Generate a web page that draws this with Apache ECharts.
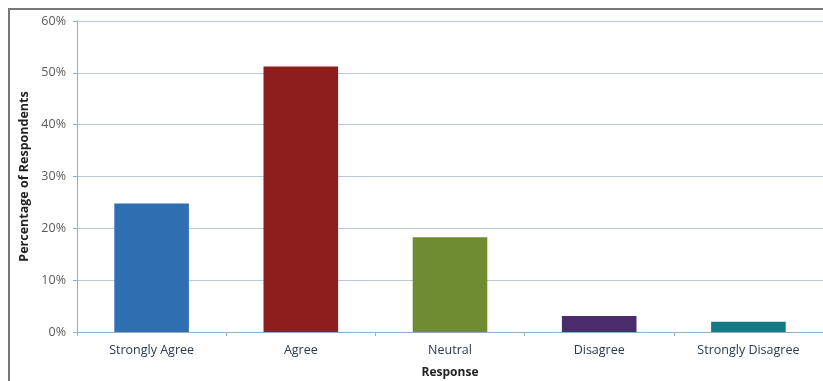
<!DOCTYPE html>
<html>
<head>
<meta charset="utf-8">
<script src="https://cdn.jsdelivr.net/npm/echarts@6/dist/echarts.min.js"></script>
<style>html,body{margin:0;padding:0;background:#fff}#c{width:823px;height:381px}</style>
</head>
<body>
<div id="c"></div>
<script>
const categories = ['Strongly Agree', 'Agree', 'Neutral', 'Disagree', 'Strongly Disagree'];
const values = [24.8, 51.2, 18.3, 3.1, 2.0];
const barColors = ['#2f6fb1', '#8e1d1d', '#6f8c31', '#4a2c6c', '#137b88'];
const yTicks = [0, 10, 20, 30, 40, 50, 60];

const chart = echarts.init(document.getElementById('c'));
chart.setOption({
  animation: false,
  grid: { left: 77, right: 0, top: 21, bottom: 49, containLabel: false, outerBoundsMode: 'none' },
  xAxis: {
    type: 'category',
    data: categories,
    name: 'Response',
    nameLocation: 'middle',
    nameGap: 35,
    nameTextStyle: { fontFamily: 'Open Sans', fontWeight: 'bold', fontSize: 12, color: '#222' },
    axisLine: { lineStyle: { color: '#8fb0c8', width: 1 } },
    axisTick: { show: true, length: 4, lineStyle: { color: '#8fb0c8' } },
    axisLabel: { fontFamily: 'Open Sans', fontSize: 12.5, color: '#2a3a48', margin: 12 }
  },
  yAxis: {
    type: 'value',
    min: yTicks[0],
    max: yTicks[yTicks.length - 1],
    interval: 10,
    name: 'Percentage of Respondents',
    nameLocation: 'middle',
    nameGap: 45,
    nameTextStyle: { fontFamily: 'Open Sans', fontWeight: 'bold', fontSize: 12.5, color: '#222' },
    axisLine: { show: true, lineStyle: { color: '#8fb0c8' } },
    axisTick: { show: true, length: 4, lineStyle: { color: '#8fb0c8' } },
    axisLabel: { fontFamily: 'Open Sans', fontSize: 12.5, color: '#5a5a5a', formatter: v => v + '%', margin: 11 },
    splitLine: { lineStyle: { color: '#b9cad6', width: 1 } }
  },
  series: [{
    type: 'bar',
    data: values.map((v, i) => ({ value: v, itemStyle: { color: barColors[i] } })),
    barWidth: '50%'
  }],
  graphic: [
    { type: 'line', shape: { x1: 8, y1: 9, x2: 823, y2: 9 }, style: { stroke: '#777', lineWidth: 2 } },
    { type: 'line', shape: { x1: 9, y1: 8, x2: 9, y2: 381 }, style: { stroke: '#777', lineWidth: 2 } }
  ]
});
</script>
</body>
</html>
